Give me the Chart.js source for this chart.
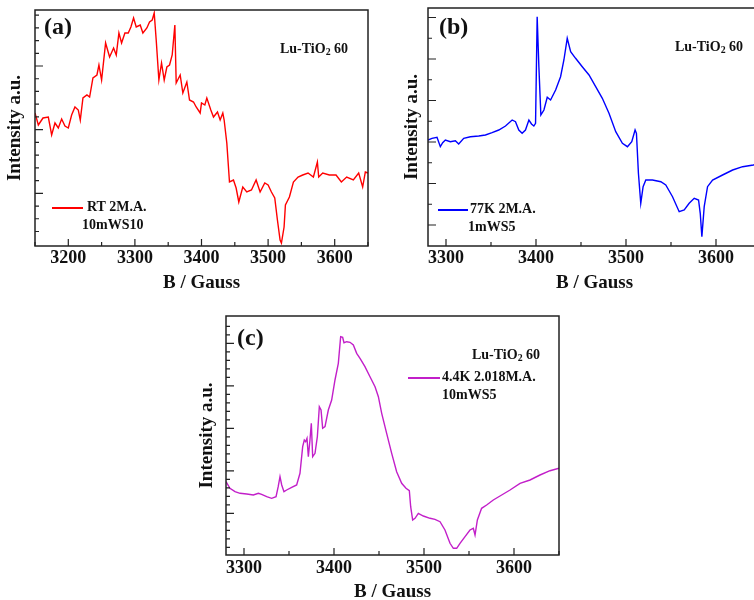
<!DOCTYPE html>
<html>
<head>
<meta charset="utf-8">
<script src="https://cdn.jsdelivr.net/npm/chart.js@4.4.1/dist/chart.umd.min.js"></script>
<style>
  html, body { margin: 0; padding: 0; background: #fff; width: 754px; height: 600px; overflow: hidden; position: relative; }
  canvas { position: absolute; }
  .txt { position: absolute; font-family: 'Liberation Serif', 'Times New Roman', serif; font-weight: bold; color: #111; white-space: nowrap; line-height: 1; }
  .tag { font-size: 24px; }
  .name, .leg { font-size: 14px; }
  .name sub { font-size: 70%; vertical-align: -0.2em; line-height: 0; }
  .swatch { position: absolute; height: 1.5px; }
</style>
</head>
<body>
<canvas id="chartA" width="380" height="300" style="left:0;top:0"></canvas>
<canvas id="chartB" width="420" height="300" style="left:380px;top:0"></canvas>
<canvas id="chartC" width="410" height="310" style="left:190px;top:300px"></canvas>

<div class="txt tag" style="left:44px;top:14px">(a)</div>
<div class="txt name" style="left:280px;top:42px">Lu-TiO<sub>2</sub> 60</div>
<div class="swatch" style="left:52px;top:207px;width:31px;background:#ff0000"></div>
<div class="txt leg" style="left:87px;top:200px">RT 2M.A.</div>
<div class="txt leg" style="left:82px;top:218px">10mWS10</div>

<div class="txt tag" style="left:439px;top:14px">(b)</div>
<div class="txt name" style="left:675px;top:40px">Lu-TiO<sub>2</sub> 60</div>
<div class="swatch" style="left:438px;top:209px;width:30px;background:#0000ff"></div>
<div class="txt leg" style="left:470px;top:202px">77K 2M.A.</div>
<div class="txt leg" style="left:468px;top:220px">1mWS5</div>

<div class="txt tag" style="left:237px;top:325px">(c)</div>
<div class="txt name" style="left:472px;top:348px">Lu-TiO<sub>2</sub> 60</div>
<div class="swatch" style="left:408px;top:377px;width:32px;background:#c21fc9"></div>
<div class="txt leg" style="left:442px;top:370px">4.4K 2.018M.A.</div>
<div class="txt leg" style="left:442px;top:388px">10mWS5</div>

<script>
// EPR spectra, field in Gauss, intensity in arbitrary units
const fieldA = [3150,3155,3162,3170,3175,3180,3185,3190,3195,3200,3205,3210,3215,3218,3222,3228,3232,3237,3243,3246,
  3250,3256,3262,3268,3272,3276,3280,3285,3290,3294,3298,3302,3308,3312,3318,3322,3326,3329,3332,3336,
  3340,3344,3348,3352,3356,3360,3362,3368,3372,3378,3382,3388,3392,3398,3400,3405,3408,3414,3418,3424,
  3428,3432,3434,3438,3442,3448,3452,3456,3462,3468,3475,3482,3488,3495,3500,3505,3510,3514,3518,3520,
  3524,3526,3532,3538,3545,3552,3560,3568,3574,3576,3582,3592,3602,3610,3618,3628,3636,3642,3646,3650];
const intensA = [133,121,128,129,111,123,118,127,120,118,131,139,136,126,148,151,149,168,171,181,
  166,203,189,198,191,213,203,213,213,219,228,219,221,213,218,224,226,233,206,166,
  183,166,179,181,191,221,163,171,153,164,146,144,139,133,143,141,148,136,129,134,
  126,133,126,103,64,66,58,44,59,54,56,66,54,63,61,54,48,26,6,3,
  19,41,49,64,69,71,73,69,84,69,73,71,71,64,69,66,73,59,74,73];

const fieldB = [3280,3284.4,3290,3293.7,3296.3,3299.3,3304.8,3310.4,3314.1,3319.7,3327.1,3336.4,3343.8,3351.2,3358.6,
  3366.1,3373.5,3377.2,3380.9,3384.6,3388.3,3392.1,3395,3397.6,3399.5,3401.3,3403.2,3405.4,3408.8,3412.5,
  3416.2,3421.8,3427.3,3431,3434.7,3438.5,3444,3451.4,3458.9,3466.3,3473.7,3481.1,3488.6,3496,3501.6,
  3506.4,3510.1,3511.6,3513.8,3516.4,3519,3522,3529.4,3538.7,3544.2,3551.7,3559.1,3564.7,3570.2,3575.8,
  3580.6,3582.5,3584.3,3586.9,3590.6,3596.2,3607.3,3618.5,3629.6,3641.5,3650];
const intensB = [106,107.7,108.7,99.3,103.3,106,104.3,105.3,102,107.7,109.3,110,111,113.3,116,
  120,126,124.3,116,112.7,116,126,122,120,122.7,229.3,179.3,131,136,148.7,
  146,156,169.3,186,207.7,194.3,187.7,179.3,171,159.3,147.7,132.7,114.3,102.7,99.3,
  104.3,116,112.7,72.7,42.7,59.3,66,66,64.3,61,49.3,34.3,36,42.7,47.7,
  46,32.7,9.3,39.3,59.3,66,71,76,79.3,81,83];

const fieldC = [3280,3284.4,3290,3295.6,3303,3310.4,3316,3319.6,3325.2,3330.7,3335.6,3338,3340,3341.9,3344.4,
  3347.4,3353,3358.5,3362.2,3365.2,3367,3368.5,3370,3371.5,3373.3,3374.8,3376.3,3378.9,3381.5,3383.7,
  3385.6,3387.4,3390,3393.7,3397.4,3401.1,3404.8,3407.4,3409.6,3411.1,3414.1,3417.8,3421.5,3425.2,3428.9,
  3434.4,3440,3445.6,3449.3,3453,3458.5,3464.1,3469.6,3475.2,3480,3483.7,3485.2,3487.4,3490,3493.7,
  3499.3,3506.7,3512.2,3517.8,3523.3,3528.9,3532.6,3536.3,3540,3545.6,3551.1,3554.8,3556.7,3559.3,3564,
  3569.6,3577,3586.3,3595.6,3606.7,3617.8,3628.9,3640,3650];
const intensC = [73.3,66.7,63.3,61.7,61,60,61.7,60.7,58.3,56.7,58.3,68.3,78.3,70,63.3,
  65,67.7,70,81.7,108.3,115,113.3,116.7,98.3,115,131.7,98.3,101.7,118.3,148.3,
  145,126.7,128.3,145,155,175,191.7,218.3,217.7,212.3,213.3,212.7,210,201.7,196.7,
  188.3,178.3,168.3,158.3,141.7,121.7,101.7,83.3,71.7,66.7,64.3,48.3,35,36.7,41.7,
  39,36.7,35.7,33.3,25,11.7,6.7,6.7,11.7,18.3,25,26.7,20,35,46.7,
  50,55,60,65,71.7,75,80,84.3,86.7];

// tick labels on the field axis
const ticksA = [3200, 3300, 3400, 3500, 3600];
const ticksBC = [3300, 3400, 3500, 3600];

const SERIF = "'Liberation Serif', 'Times New Roman', serif";

// frame box + inward tick marks like the original plotting program
const framePlugin = {
  id: 'frame',
  afterDraw(chart, args, opts) {
    const { ctx, chartArea: a, scales } = chart;
    ctx.save();
    ctx.strokeStyle = '#222';
    ctx.lineWidth = 1.5;
    ctx.strokeRect(a.left, a.top, a.right - a.left, a.bottom - a.top);
    ctx.lineWidth = 1.2;
    ctx.beginPath();
    const xs = scales.x;
    for (let v = Math.ceil(xs.min / 50) * 50; v <= xs.max; v += 50) {
      const px = xs.getPixelForValue(v);
      const len = v % 100 === 0 ? 7 : 4;
      ctx.moveTo(px, a.bottom);
      ctx.lineTo(px, a.bottom - len);
    }
    const ys = scales.y;
    const yt = opts.yTicks;
    for (let k = 0; k < yt.count; k++) {
      const py = ys.getPixelForValue(yt.start + k * yt.step);
      const len = (k - yt.majorAt) % yt.every === 0 ? 8 : 4;
      ctx.moveTo(a.left, py);
      ctx.lineTo(a.left + len, py);
    }
    ctx.stroke();
    ctx.restore();
  }
};

function makePanel(id, fields, values, color, cfg) {
  const points = fields.map((x, i) => ({ x: x, y: values[i] }));
  return new Chart(document.getElementById(id), {
    type: 'scatter',
    data: {
      datasets: [{ data: points, showLine: true, borderColor: color, borderWidth: 1.4, pointRadius: 0, tension: 0 }]
    },
    options: {
      responsive: false,
      animation: false,
      events: [],
      layout: { padding: cfg.pad },
      plugins: {
        legend: { display: false },
        tooltip: { enabled: false },
        frame: { yTicks: cfg.yTicks }
      },
      scales: {
        x: {
          type: 'linear', min: cfg.xMin, max: cfg.xMax,
          grid: { display: false, drawTicks: false },
          border: { display: false },
          afterBuildTicks: s => { s.ticks = cfg.ticks.map(v => ({ value: v })); },
          afterFit: s => { s.height = cfg.xHeight; },
          ticks: { padding: cfg.tickPad, color: '#111', maxRotation: 0, autoSkip: false,
                   callback: v => String(v),
                   font: { family: SERIF, size: 18, weight: 'bold' } },
          title: { display: true, text: 'B / Gauss', color: '#111',
                   font: { family: SERIF, size: 19, weight: 'bold' }, padding: { top: 0, bottom: cfg.titlePad } }
        },
        y: {
          min: 0, max: cfg.yMax,
          grid: { display: false, drawTicks: false },
          border: { display: false },
          ticks: { display: false },
          afterFit: s => { s.width = cfg.yWidth; },
          title: { display: true, text: 'Intensity a.u.', color: '#111',
                   font: { family: SERIF, size: 19, weight: 'bold' }, padding: { top: cfg.yTitlePad, bottom: 0 } }
        }
      }
    },
    plugins: [framePlugin]
  });
}

makePanel('chartA', fieldA, intensA, '#ff0000', {
  pad: { left: 0, top: 10, right: 12, bottom: 0 },
  xMin: 3150, xMax: 3650, ticks: ticksA, xHeight: 54, tickPad: 2, titlePad: 5.6,
  yMax: 236, yWidth: 35, yTitlePad: 3.6,
  yTicks: { start: 14.5, step: 12.73, count: 18, majorAt: 3, every: 5 }
});

makePanel('chartB', fieldB, intensB, '#0000ff', {
  pad: { left: 0, top: 8, right: 39, bottom: 0 },
  xMin: 3280, xMax: 3650, ticks: ticksBC, xHeight: 54, tickPad: 2, titlePad: 5.6,
  yMax: 238, yWidth: 48, yTitlePad: 20.6,
  yTicks: { start: 21, step: 20.75, count: 11, majorAt: 0, every: 2 }
});

makePanel('chartC', fieldC, intensC, '#c21fc9', {
  pad: { left: 0, top: 16, right: 41, bottom: 0 },
  xMin: 3280, xMax: 3650, ticks: ticksBC, xHeight: 55, tickPad: 3, titlePad: 6.6,
  yMax: 239, yWidth: 36, yTitlePad: 5.6,
  yTicks: { start: 7.7, step: 8.5, count: 27, majorAt: 4, every: 5 }
});
</script>
</body>
</html>
